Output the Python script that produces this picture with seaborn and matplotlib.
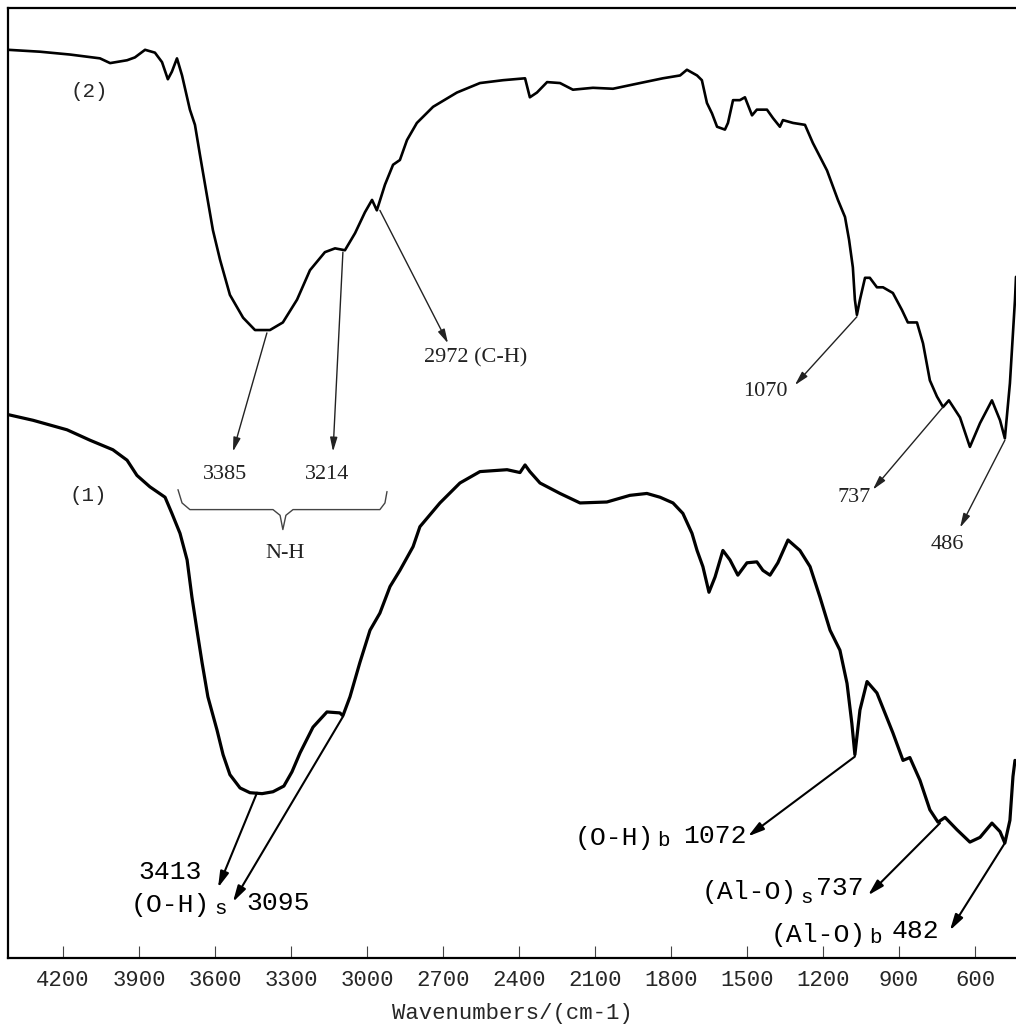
import matplotlib
matplotlib.use("Agg")
import numpy as np
import pandas as pd
import seaborn as sns
import matplotlib.pyplot as plt

# ---------------- data ----------------
# Curve (2): upper spectrum
wn_2 = [4417, 4291, 4172, 4054, 4014, 3947, 3916, 3876, 3837, 3809, 3786, 3770, 3750,
        3730, 3699, 3679, 3659, 3632, 3608, 3580, 3541, 3489, 3442, 3383, 3332, 3276,
        3225, 3166, 3126, 3087, 3047, 3008, 2980, 2961, 2929, 2897, 2870, 2842, 2803,
        2739, 2645, 2554, 2463, 2376, 2357, 2329, 2289, 2238, 2187, 2108, 2029, 1922,
        1832, 1764, 1737, 1697, 1678, 1658, 1638, 1618, 1587, 1575, 1555, 1528, 1508,
        1480, 1461, 1421, 1397, 1370, 1358, 1318, 1271, 1240, 1184, 1141, 1113, 1097,
        1082, 1074, 1066, 1054, 1034, 1015, 987, 963, 924, 888, 865, 829, 805, 778,
        750, 726, 703, 659, 620, 580, 533, 501, 482, 462, 442, 438]
t_2 = [95.6, 95.4, 95.1, 94.7, 94.2, 94.5, 94.8, 95.6, 95.3, 94.3, 92.5, 93.3, 94.7,
       92.9, 89.3, 87.7, 84.5, 80.3, 76.6, 73.5, 69.8, 67.4, 66.1, 66.1, 66.9, 69.3,
       72.4, 74.3, 74.7, 74.5, 76.3, 78.5, 79.8, 78.7, 81.4, 83.5, 84.0, 86.1, 87.9,
       89.6, 91.1, 92.1, 92.4, 92.6, 90.6, 91.1, 92.2, 92.1, 91.4, 91.6, 91.5, 92.1,
       92.6, 92.9, 93.5, 92.9, 92.4, 90.0, 88.9, 87.5, 87.2, 87.9, 90.3, 90.3, 90.6,
       88.7, 89.3, 89.3, 88.4, 87.5, 88.2, 87.9, 87.7, 85.8, 82.9, 79.8, 78.0, 75.6,
       72.7, 69.3, 67.7, 69.3, 71.6, 71.6, 70.6, 70.6, 70.0, 68.2, 66.9, 66.9, 64.7,
       60.8, 59.1, 58.0, 58.7, 56.9, 53.8, 56.3, 58.7, 56.6, 54.7, 60.5, 69.3, 71.7]

# Curve (1): lower spectrum
wn_1 = [4417, 4318, 4184, 4093, 4003, 3947, 3908, 3857, 3797, 3770, 3738, 3710, 3691,
        3671, 3651, 3628, 3592, 3568, 3541, 3501, 3462, 3414, 3371, 3328, 3296, 3264,
        3213, 3158, 3107, 3095, 3067, 3028, 2988, 2949, 2909, 2870, 2818, 2791, 2712,
        2633, 2554, 2447, 2396, 2376, 2357, 2317, 2238, 2159, 2053, 1962, 1895, 1843,
        1792, 1753, 1717, 1697, 1674, 1650, 1626, 1595, 1567, 1536, 1500, 1461, 1437,
        1409, 1378, 1338, 1291, 1251, 1212, 1172, 1133, 1105, 1086, 1074, 1054, 1026,
        987, 924, 884, 857, 817, 778, 746, 718, 671, 620, 580, 533, 501, 482, 462,
        450, 442]
t_1 = [57.2, 56.6, 55.6, 54.5, 53.5, 52.4, 50.8, 49.6, 48.5, 46.8, 44.7, 41.9, 38.0,
       34.5, 31.1, 27.5, 24.0, 21.4, 19.3, 17.9, 17.4, 17.3, 17.5, 18.1, 19.6, 21.6,
       24.3, 25.9, 25.8, 25.5, 27.5, 31.1, 34.5, 36.3, 39.1, 40.8, 43.3, 45.4, 47.9,
       50.0, 51.2, 51.4, 51.1, 51.9, 51.2, 50.0, 48.9, 47.9, 48.0, 48.7, 48.9, 48.5,
       47.9, 46.8, 44.7, 42.9, 41.2, 38.5, 40.1, 42.9, 41.9, 40.3, 41.6, 41.7, 40.8,
       40.3, 41.6, 44.0, 42.9, 41.2, 38.0, 34.5, 32.4, 28.9, 24.7, 21.4, 26.1, 29.1,
       27.9, 23.7, 20.8, 21.1, 18.7, 15.6, 14.3, 14.8, 13.5, 12.2, 12.7, 14.2, 13.3,
       12.1, 14.5, 19.1, 20.8]

tick_values = [4200, 3900, 3600, 3300, 3000, 2700, 2400, 2100, 1800, 1500, 1200, 900, 600]
tick_labels = [str(v) for v in tick_values]
x_label = "Wavenumbers/(cm-1)"

# annotations for curve (2): label, arrow start (on curve), arrow tip, label position
ann2_labels = ["3385", "3214", "2972 (C-H)", "1070", "737", "486"]
ann2_start = [(3395, 65.8), (3095, 74.3), (2949, 78.7), (1066, 67.5), (726, 58.0), (482, 54.5)]
ann2_tip = [(3529, 53.3), (3134, 53.3), (2680, 64.7), (1311, 60.3), (1003, 49.3), (659, 45.3)]
ann2_text = [(3560, 50.9), (3158, 50.9), (2570, 63.2), (1429, 59.6), (1078, 48.5), (711, 43.5)]

# annotations for curve (1)
ann1_start = [(3434, 17.4), (3095, 25.4), (1074, 21.2), (738, 14.2), (482, 12.1)]
ann1_tip = [(3588, 7.4), (3529, 5.9), (1496, 12.8), (1022, 6.6), (699, 2.9)]
# text pieces: (text, x, y, size)
ann1_pieces = [("3413", 3778, 9.1, 19), ("(O-H)", 3778, 5.6, 19), ("s", 3576, 5.2, 15),
               ("3095", 3351, 5.8, 19),
               ("(O-H)", 2025, 12.6, 19), ("b", 1828, 12.4, 15), ("1072", 1626, 12.8, 19),
               ("(Al-O)", 1492, 6.9, 19), ("s", 1263, 6.4, 15), ("737", 1133, 7.4, 19),
               ("(Al-O)", 1220, 2.4, 19), ("b", 991, 2.2, 15), ("482", 833, 2.8, 19)]

brace_x = [3746, 3730, 3699, 3371, 3343, 3332, 3320, 3292, 2949, 2929, 2921]
brace_y = [49.3, 47.9, 47.2, 47.2, 46.6, 45.1, 46.6, 47.2, 47.2, 47.9, 49.1]

# ---------------- plotting ----------------
sns.set_theme(style="white")
plt.rcParams['font.family'] = ['Liberation Mono', 'DejaVu Sans Mono']

fig = plt.figure(figsize=(10.16, 10.25), dpi=100)
fig.patch.set_facecolor("white")
ax = fig.add_axes([8 / 1016, 67 / 1025, 1008 / 1016, 950 / 1025])

df1 = pd.DataFrame({"wn": wn_1, "T": t_1})
df2 = pd.DataFrame({"wn": wn_2, "T": t_2})
sns.lineplot(data=df1, x="wn", y="T", ax=ax, color="black", lw=2.3,
             sort=False, estimator=None)
sns.lineplot(data=df2, x="wn", y="T", ax=ax, color="black", lw=1.9,
             sort=False, estimator=None)

ax.set_xlim(4417, 438)
ax.set_ylim(0, 100)
ax.set_xticks(tick_values)
ax.set_xticklabels(tick_labels, fontsize=16)
ax.set_yticks([])
ax.set_ylabel("")
ax.set_xlabel(x_label, fontsize=16)
ax.xaxis.set_label_coords(0.5, -0.047)
ax.tick_params(axis="x", direction="in", length=9, width=0.8, color="#444444",
               pad=9, bottom=True, top=False)
for side in ["left", "top", "bottom"]:
    ax.spines[side].set_visible(True)
    ax.spines[side].set_color("black")
    ax.spines[side].set_linewidth(1.6)
ax.spines["right"].set_visible(False)

# series labels
ax.text(4097, 91.2, "(2)", fontsize=15, ha="center", va="center")
ax.text(4101, 48.7, "(1)", fontsize=15, ha="center", va="center")

# curve (2) annotations
for lab, s, tp, tx in zip(ann2_labels, ann2_start, ann2_tip, ann2_text):
    ax.annotate("", xy=tp, xytext=s,
                arrowprops=dict(arrowstyle="-|>,head_length=0.7,head_width=0.18",
                                lw=1.0, color="#222222", shrinkA=0, shrinkB=0))
    ax.text(tx[0], tx[1], lab, fontsize=16, family="Liberation Serif",
            ha="center", va="center", color="#222222")

# N-H brace
ax.plot(brace_x, brace_y, color="#444444", lw=1.0)
ax.text(3324, 42.6, "N-H", fontsize=16, family="Liberation Serif",
        ha="center", va="center", color="#222222")

# curve (1) annotations
for s, tp in zip(ann1_start, ann1_tip):
    ax.annotate("", xy=tp, xytext=s,
                arrowprops=dict(arrowstyle="-|>,head_length=0.8,head_width=0.22",
                                lw=1.5, color="black", shrinkA=0, shrinkB=0))
for txt, x, y, size in ann1_pieces:
    ax.text(x, y, txt, fontsize=size, ha="center", va="center", color="black")

fig.savefig("out.png", dpi=100, facecolor="white")
